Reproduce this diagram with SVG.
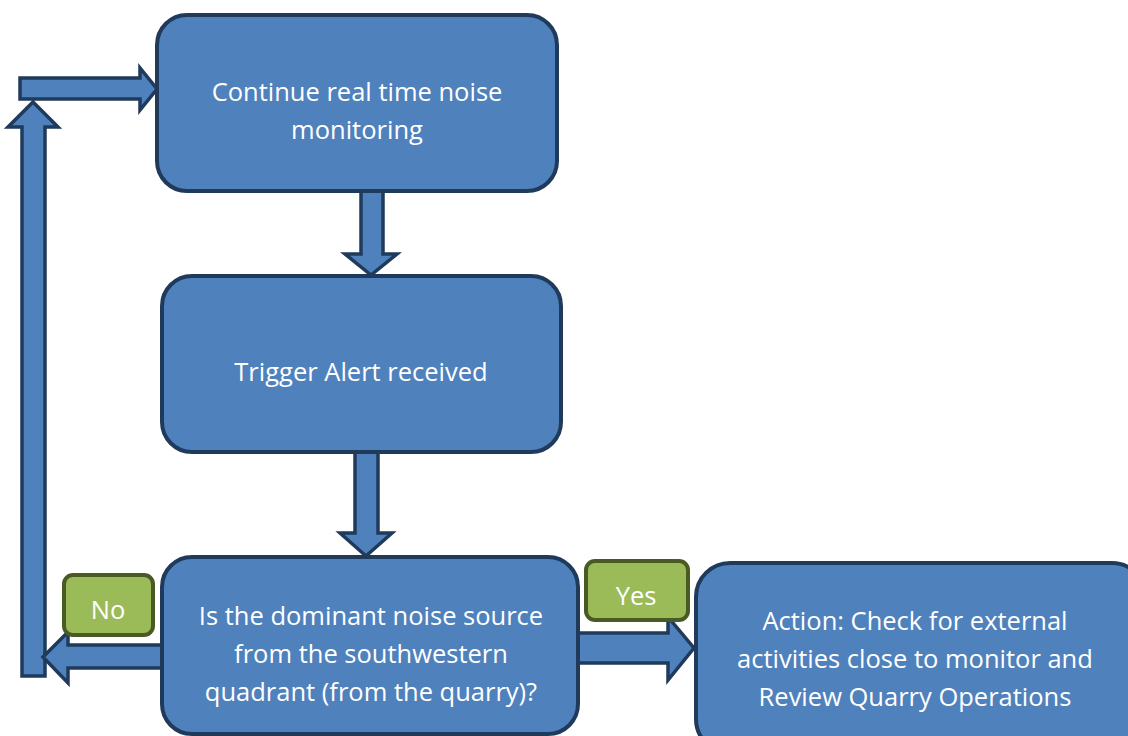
<svg xmlns="http://www.w3.org/2000/svg" width="1128" height="736" viewBox="0 0 1128 736">
<style>
.arrow{fill:#4f81bd;stroke:#1f3a5a;stroke-width:3.5;stroke-linejoin:miter}
.box{fill:#4f81bd;stroke:#1f3a5a;stroke-width:4}
.lab{fill:#9bbb59;stroke:#4a5a25;stroke-width:4}
text{font-family:"Open Sans","Liberation Sans",sans-serif;font-size:25.5px;fill:#ffffff;text-anchor:middle}
</style>
<rect width="1128" height="736" fill="#ffffff"/>
<g id="connectors">
<polygon class="arrow" points="22,676 45,676 45,127 58,127 33,102 8,127 22,127"/>
<polygon class="arrow" points="20,78 140,78 140,68 157,89 140,110 140,99 20,99"/>
<polygon class="arrow" points="361,191 383,191 383,254 397,254 371,275 345,254 361,254"/>
<polygon class="arrow" points="355,452 378,452 378,533 392,533 366,556 340,533 355,533"/>
<polygon class="arrow" points="164,645 68,645 68,632 43,657 68,683 68,668 164,668"/>
<polygon class="arrow" points="576,633 668,633 668,617 694,648 668,680 668,663 576,663"/>
</g>
<g id="n1">
<rect class="box" x="157" y="15" width="400" height="176" rx="30"/>
<text x="357" y="101">Continue real time noise</text>
<text x="357" y="139">monitoring</text>
</g>
<g id="n2">
<rect class="box" x="162" y="276" width="399" height="176" rx="30"/>
<text x="361" y="381">Trigger Alert received</text>
</g>
<g id="n3">
<rect class="box" x="162" y="557" width="416" height="177" rx="30"/>
<text x="371" y="625">Is the dominant noise source</text>
<text x="371" y="663">from the southwestern</text>
<text x="371" y="701">quadrant (from the quarry)?</text>
</g>
<g id="n4">
<rect class="box" x="696" y="563" width="450" height="190" rx="34"/>
<text x="915" y="630">Action: Check for external</text>
<text x="915" y="668">activities close to monitor and</text>
<text x="915" y="706">Review Quarry Operations</text>
</g>
<g id="no">
<rect class="lab" x="64" y="575" width="89" height="60" rx="9"/>
<text x="108" y="619">No</text>
</g>
<g id="yes">
<rect class="lab" x="586" y="561" width="102" height="59" rx="9"/>
<text x="636" y="605">Yes</text>
</g>
</svg>
